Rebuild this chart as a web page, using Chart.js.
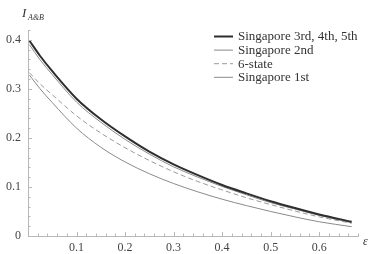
<!DOCTYPE html>
<html>
<head>
<meta charset="utf-8">
<script src="https://cdn.jsdelivr.net/npm/chart.js@4.4.1/dist/chart.umd.min.js"></script>
<style>
  html, body { margin: 0; padding: 0; background: #fff; }
  canvas { display: block; }
</style>
</head>
<body>
<canvas id="chart" width="374" height="254"></canvas>
<script>
// epsilon values (x)
const eps = [0.003, 0.025, 0.05, 0.1, 0.15, 0.2, 0.25, 0.3, 0.35, 0.4, 0.45, 0.5, 0.55, 0.6, 0.667];

// I_{A&B} for each scheme
const sing345 = [0.398, 0.367, 0.336, 0.280, 0.238, 0.203, 0.172, 0.146, 0.124, 0.104, 0.087, 0.071, 0.057, 0.044, 0.029];
const sing2   = [0.390, 0.359, 0.329, 0.273, 0.232, 0.197, 0.167, 0.141, 0.120, 0.101, 0.084, 0.068, 0.055, 0.042, 0.027];
const state6  = [0.333, 0.310, 0.288, 0.245, 0.210, 0.180, 0.154, 0.131, 0.111, 0.094, 0.078, 0.064, 0.051, 0.039, 0.026];
const sing1   = [0.328, 0.300, 0.272, 0.220, 0.181, 0.151, 0.127, 0.107, 0.090, 0.075, 0.062, 0.050, 0.039, 0.029, 0.019];

const labels = ['Singapore 3rd, 4th, 5th', 'Singapore 2nd', '6-state', 'Singapore 1st'];
const xTickLabels = ['0.1', '0.2', '0.3', '0.4', '0.5', '0.6'];
const yTickLabels = ['0', '0.1', '0.2', '0.3', '0.4'];

const serif = '"Liberation Serif", "DejaVu Serif", serif';
const axisColor = '#b8b8b8';

function pts(ys) {
  return ys.map((y, i) => ({ x: eps[i], y: y }));
}

function isMajor(v) {
  return Math.abs(v * 10 - Math.round(v * 10)) < 1e-6;
}

// ticks pointing into the plot, Mathematica style
const innerTicks = {
  id: 'innerTicks',
  afterDraw(chart) {
    const ctx = chart.ctx;
    const xs = chart.scales.x, ys = chart.scales.y;
    const area = chart.chartArea;
    ctx.save();
    ctx.strokeStyle = axisColor;
    ctx.lineWidth = 1;
    ctx.beginPath();
    xs.ticks.forEach(t => {
      if (t.value <= 0) return;
      const px = Math.round(xs.getPixelForValue(t.value)) + 0.5;
      const len = isMajor(t.value) ? 4 : 2.5;
      ctx.moveTo(px, area.bottom);
      ctx.lineTo(px, area.bottom - len);
    });
    ys.ticks.forEach(t => {
      if (t.value <= 0) return;
      const py = Math.round(ys.getPixelForValue(t.value)) + 0.5;
      const len = isMajor(t.value) ? 4 : 2.5;
      ctx.moveTo(area.left, py);
      ctx.lineTo(area.left + len, py);
    });
    ctx.stroke();
    ctx.restore();
  }
};

// axis names and legend
const extras = {
  id: 'extras',
  afterDraw(chart) {
    const ctx = chart.ctx;
    const area = chart.chartArea;
    ctx.save();
    ctx.fillStyle = '#333';
    ctx.textBaseline = 'alphabetic';
    ctx.font = 'italic 13px ' + serif;
    ctx.fillText('I', 22, 17);
    ctx.font = 'italic 8px ' + serif;
    ctx.fillText('A&B', 28, 20);
    ctx.font = 'italic 12px ' + serif;
    ctx.fillText('\u03b5', area.right + 5, area.bottom + 9);

    // legend
    const x0 = 214, x1 = 233, tx = 238;
    let y = 36.5;
    ctx.font = '13px ' + serif;
    ctx.textBaseline = 'middle';
    chart.data.datasets.forEach(ds => {
      ctx.strokeStyle = ds.borderColor;
      ctx.lineWidth = ds.borderWidth;
      ctx.setLineDash(ds.borderDash || []);
      ctx.beginPath();
      ctx.moveTo(x0, y);
      ctx.lineTo(x1, y);
      ctx.stroke();
      ctx.setLineDash([]);
      ctx.fillStyle = '#333';
      ctx.fillText(ds.label, tx, y + 0.5);
      y += 13.6;
    });
    ctx.restore();
  }
};

new Chart(document.getElementById('chart'), {
  type: 'line',
  data: {
    datasets: [
      { label: labels[0], data: pts(sing345), borderColor: '#2e2e2e', borderWidth: 2 },
      { label: labels[1], data: pts(sing2), borderColor: '#8a8a8a', borderWidth: 1 },
      { label: labels[2], data: pts(state6), borderColor: '#9a9a9a', borderWidth: 1, borderDash: [5, 3] },
      { label: labels[3], data: pts(sing1), borderColor: '#8a8a8a', borderWidth: 1 }
    ]
  },
  options: {
    responsive: false,
    animation: false,
    devicePixelRatio: 1,
    layout: { padding: { left: 0, right: 16, top: 30, bottom: 0 } },
    elements: {
      point: { radius: 0 },
      line: { cubicInterpolationMode: 'monotone', fill: false }
    },
    plugins: {
      legend: { display: false },
      tooltip: { enabled: false }
    },
    scales: {
      x: {
        type: 'linear',
        min: 0,
        max: 0.68,
        afterFit(s) { s.height = 18; },
        grid: { display: false, drawTicks: false },
        border: { display: true, color: axisColor, width: 1 },
        ticks: {
          stepSize: 0.02,
          autoSkip: false,
          maxRotation: 0,
          padding: 5,
          color: '#444',
          font: { family: serif, size: 12 },
          callback(v) {
            if (!isMajor(v) || v <= 0) return '';
            return xTickLabels[Math.round(v * 10) - 1];
          }
        }
      },
      y: {
        min: 0,
        max: 0.42,
        afterFit(s) { s.width = 28; },
        grid: { display: false, drawTicks: false },
        border: { display: true, color: axisColor, width: 1 },
        ticks: {
          stepSize: 0.02,
          autoSkip: false,
          padding: 7,
          color: '#444',
          font: { family: serif, size: 12 },
          callback(v) {
            if (!isMajor(v)) return '';
            return yTickLabels[Math.round(v * 10)];
          }
        }
      }
    }
  },
  plugins: [innerTicks, extras]
});
</script>
</body>
</html>
